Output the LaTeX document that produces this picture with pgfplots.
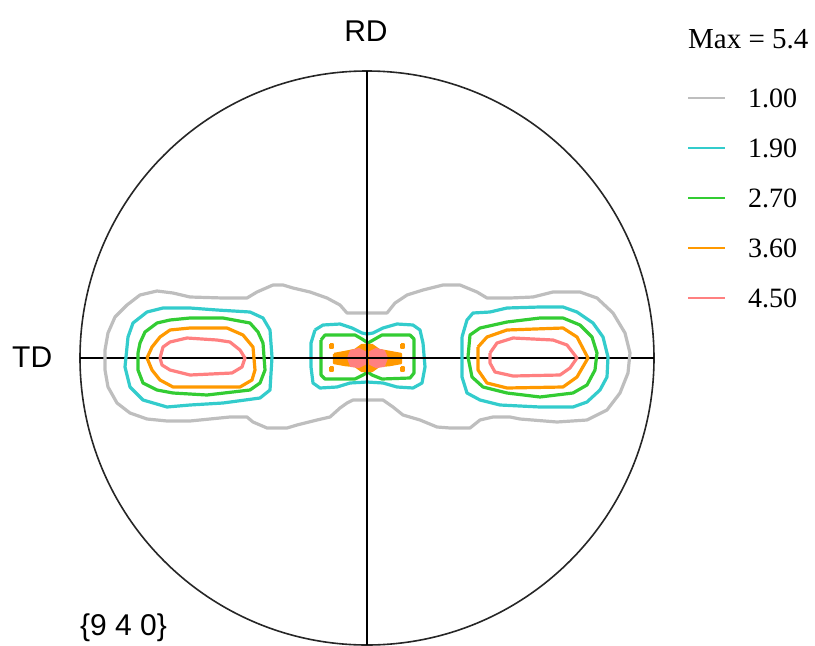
\documentclass[border=0pt]{standalone}
\usepackage{pgfplots}
\pgfplotsset{compat=1.18}
\usepackage{fontspec}
\setmainfont{Liberation Serif}
\newfontfamily\arial{Liberation Sans}
\definecolor{cgray}{RGB}{190,190,190}
\definecolor{ccyan}{RGB}{51,204,204}
\definecolor{cgreen}{RGB}{51,204,51}
\definecolor{corange}{RGB}{255,153,0}
\definecolor{cpink}{RGB}{255,128,128}
\begin{document}
\begin{tikzpicture}
\begin{axis}[scale only axis, width=815pt, height=646pt,
  xmin=0, xmax=815, ymin=0, ymax=646, y dir=reverse,
  hide axis, clip=false]
\path[draw=none] (axis cs:0,0) rectangle (axis cs:815,646);
% frame circle and cross
\draw[line width=1.6pt, black!85] (axis cs:367,358) circle[radius=287pt];
\addplot[black, line width=1.8pt, forget plot] coordinates {(367,71) (367,645)};
\addplot[black, line width=1.8pt, forget plot] coordinates {(80,358) (654,358)};
% gray 1.00
\addplot[cgray, line width=3.2pt, line join=round] coordinates {
(105,360) (105,350) (108,333) (115,317) (127,305) (140,295) (157,291) (173,293) (190,297) (223,298)
(230,298) (247,298) (257,292) (273,285) (283,285) (293,288) (310,292) (327,298) (340,305) (347,313)
(387,313) (395,303) (407,295) (423,290) (443,285) (460,285) (477,292) (487,298) (510,298)
(533,297) (553,292) (580,292) (597,298) (613,313) (625,333) (630,353) (628,373) (620,393) (607,410)
(587,420) (557,422) (520,419) (510,417) (493,417) (480,420) (470,428) (450,428) (437,427) (420,420)
(403,415) (393,407) (383,400) (353,400) (347,403) (340,408) (330,417) (317,420) (297,425) (287,428)
(267,428) (253,422) (247,417) (230,417) (190,421) (167,421) (147,419) (130,413) (117,403) (108,387)
(105,370) (105,360)};
% cyan 1.90
\addplot[ccyan, line width=3.2pt, line join=round] coordinates {
(127,347) (128,337) (133,323) (147,312) (163,308) (190,308) (217,310) (250,312) (263,318) (270,330)
(272,357) (270,390) (260,398) (223,403) (190,405) (167,407) (143,400) (130,387) (125,367) (127,347)};
\addplot[ccyan, line width=3.2pt, line join=round] coordinates {
(462,337) (467,320) (473,313) (490,312) (507,308) (540,307) (563,307) (577,312) (593,323) (603,337)
(608,357) (607,377) (600,390) (587,402) (573,407) (540,407) (500,405) (480,400) (467,393) (462,377) (462,337)};
\addplot[ccyan, line width=3.2pt, line join=round] coordinates {
(315,330) (323,325) (340,324) (352,328) (362,333) (367,334) (373,333) (383,328) (397,324) (413,325)
(420,330) (423,343) (425,367) (422,383) (413,388) (397,387) (383,383) (367,382) (350,383) (337,387)
(320,388) (313,383) (311,367) (311,343) (315,330)};
% green 2.70
\addplot[cgreen, line width=3.2pt, line join=round] coordinates {
(138,353) (140,343) (145,332) (157,323) (170,320) (190,318) (223,318) (250,323) (258,332) (263,343)
(265,370) (260,383) (250,390) (207,395) (173,393) (157,390) (143,383) (138,370) (138,353)};
\addplot[cgreen, line width=3.2pt, line join=round] coordinates {
(468,357) (470,335) (480,328) (507,322) (540,318) (563,318) (580,325) (592,337) (597,353) (595,370)
(587,385) (573,393) (540,397) (507,393) (483,387) (472,377) (468,357)};
\addplot[cgreen, line width=3.2pt, line join=round] coordinates {
(321,340) (325,335) (355,335) (362,339) (368,343) (375,339) (382,335) (410,335) (414,339) (414,373)
(410,378) (382,379) (372,375) (368,372) (363,375) (355,379) (325,379) (321,375) (321,340)};
% orange 3.60
\addplot[corange, line width=3.2pt, line join=round] coordinates {
(147,358) (152,347) (160,337) (170,330) (190,328) (227,328) (243,335) (253,347) (255,370) (252,380)
(240,387) (207,387) (173,387) (160,380) (152,370) (147,358)};
\addplot[corange, line width=3.2pt, line join=round] coordinates {
(478,347) (487,337) (507,330) (563,328) (577,337) (588,358) (577,377) (563,387) (507,388) (487,383)
(478,370) (478,347)};
\addplot[corange, fill=corange, line width=2.4pt, line join=round] coordinates {
(334,354) (345,352) (355,350) (362,345) (372,345) (379,350) (390,352) (401,354) (401,363) (390,365)
(379,366) (372,371) (362,371) (355,366) (345,365) (334,363) (334,354)};
\addplot[corange, fill=corange, line width=2.4pt, line join=round] coordinates {(330,344) (333,344) (333,348) (330,348) (330,344)};
\addplot[corange, fill=corange, line width=2.4pt, line join=round] coordinates {(330,367) (333,367) (333,371) (330,371) (330,367)};
\addplot[corange, fill=corange, line width=2.4pt, line join=round] coordinates {(401,344) (404,344) (404,348) (401,348) (401,344)};
\addplot[corange, fill=corange, line width=2.4pt, line join=round] coordinates {(401,367) (404,367) (404,371) (401,371) (401,367)};
% pink 4.50
\addplot[cpink, line width=3.2pt, line join=round] coordinates {
(160,358) (163,347) (170,342) (187,338) (217,340) (230,342) (240,350) (245,358) (242,367) (232,373)
(190,375) (170,370) (162,365) (160,358)};
\addplot[cpink, line width=3.2pt, line join=round] coordinates {
(490,353) (497,343) (513,338) (553,340) (567,345) (577,358) (570,368) (560,375) (513,376) (495,372)
(490,363) (490,353)};
\addplot[cpink, fill=cpink, line width=2pt, line join=round] coordinates {
(348,358) (351,351) (359,349) (365,352) (365,364) (359,367) (351,366) (348,358)};
\addplot[cpink, fill=cpink, line width=2pt, line join=round] coordinates {
(387,358) (384,351) (376,349) (370,352) (370,364) (376,367) (384,366) (387,358)};
% redraw cross over center blobs
\addplot[black, line width=1.8pt, forget plot] coordinates {(367,300) (367,420)};
\addplot[black, line width=1.8pt, forget plot] coordinates {(300,358) (440,358)};
% legend
\addplot[cgray, line width=1.8pt] coordinates {(688,98) (725,98)};
\addplot[ccyan, line width=1.8pt] coordinates {(688,148) (725,148)};
\addplot[cgreen, line width=1.8pt] coordinates {(688,198) (725,198)};
\addplot[corange, line width=1.8pt] coordinates {(688,248) (725,248)};
\addplot[cpink, line width=1.8pt] coordinates {(688,298) (725,298)};
\node[anchor=base west, inner sep=0pt, font=\fontsize{29}{30}\selectfont] at (axis cs:688,48) {Max = 5.4};
\node[anchor=base west, inner sep=0pt, font=\fontsize{28}{30}\selectfont] at (axis cs:748,107) {1.00};
\node[anchor=base west, inner sep=0pt, font=\fontsize{28}{30}\selectfont] at (axis cs:748,157) {1.90};
\node[anchor=base west, inner sep=0pt, font=\fontsize{28}{30}\selectfont] at (axis cs:748,207) {2.70};
\node[anchor=base west, inner sep=0pt, font=\fontsize{28}{30}\selectfont] at (axis cs:748,257) {3.60};
\node[anchor=base west, inner sep=0pt, font=\fontsize{28}{30}\selectfont] at (axis cs:748,307) {4.50};
% labels
\node[anchor=base, inner sep=0pt, font=\arial\fontsize{30}{32}\selectfont] at (axis cs:366,41) {RD};
\node[anchor=base west, inner sep=0pt, font=\arial\fontsize{30}{32}\selectfont] at (axis cs:12,367) {TD};
\node[anchor=base west, inner sep=0pt, font=\arial\fontsize{30}{32}\selectfont] at (axis cs:80,635) {\{9 4 0\}};
\end{axis}
\end{tikzpicture}
\end{document}
